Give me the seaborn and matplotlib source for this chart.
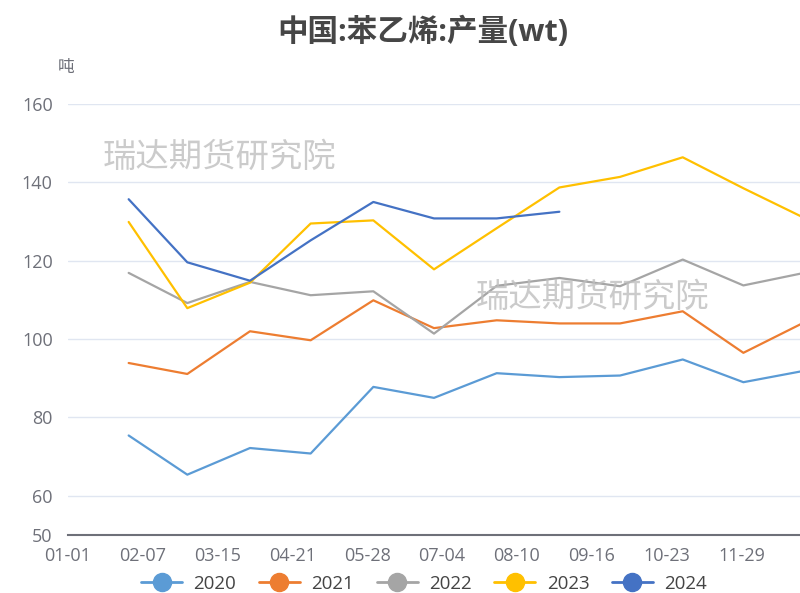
import matplotlib
matplotlib.use("Agg")
import matplotlib.pyplot as plt
import matplotlib.dates as mdates
from matplotlib.lines import Line2D
import numpy as np
import pandas as pd
import seaborn as sns

# monthly output, dated at month end (plotted on a common leap-year axis)
months = pd.date_range("2024-01-31", periods=12, freq="ME")
years = ["2020", "2021", "2022", "2023", "2024"]
v2020 = [75.4, 65.4, 72.2, 70.8, 87.8, 85.0, 91.3, 90.3, 90.7, 94.8, 89.0, 92.0]
v2021 = [93.9, 91.1, 102.0, 99.7, 109.9, 102.8, 104.8, 104.0, 104.0, 107.1, 96.5, 104.5]
v2022 = [116.9, 109.2, 114.6, 111.2, 112.2, 101.4, 113.6, 115.6, 113.5, 120.3, 113.7, 117.0]
v2023 = [129.9, 107.9, 114.4, 129.5, 130.3, 117.8, 128.3, 138.7, 141.4, 146.4, 138.5, 130.7]
v2024 = [135.7, 119.6, 114.9, 125.2, 135.0, 130.8, 130.8, 132.5]

colors = {"2020": "#5B9BD5", "2021": "#ED7D31", "2022": "#A5A5A5",
          "2023": "#FFC000", "2024": "#4472C4"}

rows = []
for yr, vals in zip(years, [v2020, v2021, v2022, v2023, v2024]):
    for d, v in zip(months, vals):
        rows.append({"date": d, "year": yr, "value": v})
df = pd.DataFrame(rows)

sns.set_theme(style="white")
plt.rcParams["font.family"] = ["Open Sans", "Noto Sans CJK SC", "DejaVu Sans"]

fig = plt.figure(figsize=(8, 5.93), dpi=100)
ax = fig.add_axes([0.085, 0.0978, 0.915, 0.7268])

sns.lineplot(data=df, x="date", y="value", hue="year", palette=colors,
             linewidth=1.6, legend=False, ax=ax)

# axes styling
ax.set_ylim(50, 160)
ax.set_yticks([50, 60, 80, 100, 120, 140, 160])
ax.yaxis.grid(True, color="#E0E6F1", linewidth=1)
ax.set_axisbelow(True)
start = pd.Timestamp("2024-01-01")
ax.set_xlim(start, start + pd.Timedelta(days=362))
ax.set_xticks(pd.date_range(start, periods=10, freq="37D"))
ax.xaxis.set_major_formatter(mdates.DateFormatter("%m-%d"))
for s in ["top", "right", "left"]:
    ax.spines[s].set_visible(False)
ax.spines["bottom"].set_color("#6E7079")
ax.spines["bottom"].set_linewidth(1.5)
ax.tick_params(axis="x", colors="#6E7079", length=5, width=1, direction="out",
               labelsize=13, pad=3.5, labelcolor="#6E7079")
ax.tick_params(axis="y", length=0, labelsize=13, pad=11, labelcolor="#6E7079")
ax.set_xlabel("")
ax.set_ylabel("")

# title, unit, watermarks
fig.text(0.529, 0.946, "中国:苯乙烯:产量(wt)", ha="center", va="center",
         fontsize=22, fontweight="bold", color="#464646")
fig.text(0.083, 0.886, "吨", ha="center", va="center", fontsize=12, color="#6E7079")
fig.text(0.274, 0.733, "瑞达期货研究院", ha="center", va="center",
         fontsize=24, color="#BEBEBE", alpha=0.8)
fig.text(0.741, 0.497, "瑞达期货研究院", ha="center", va="center",
         fontsize=24, color="#BEBEBE", alpha=0.8)

handles = [Line2D([0], [0], color=colors[y], linewidth=2, marker="o",
                  markersize=13, markerfacecolor=colors[y], markeredgecolor=colors[y])
           for y in years]
fig.legend(handles, years, loc="center", bbox_to_anchor=(0.53, 0.016), ncol=5,
           frameon=False, fontsize=13.5, handlelength=2.2, handletextpad=0.6,
           columnspacing=1.2, labelcolor="#444444")

fig.savefig("out.png", dpi=100)
